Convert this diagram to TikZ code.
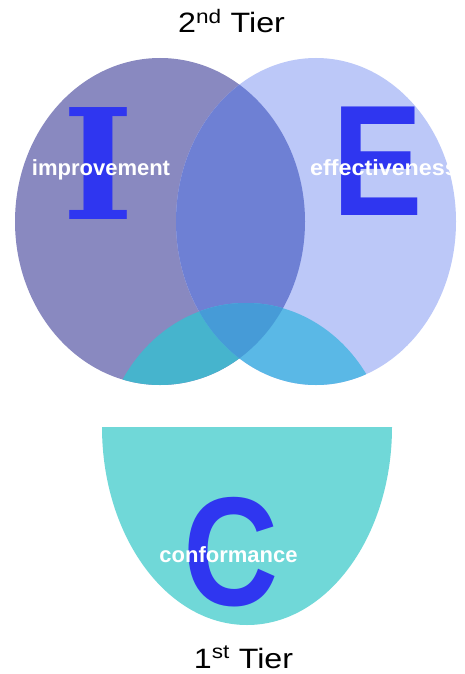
\documentclass[tikz,border=0pt]{standalone}
\usepackage{fontspec}
\usepackage{graphicx}
\setmainfont{Liberation Sans}
\newfontfamily\slabfont{DejaVu Serif}

% region colours
\definecolor{improvefill}{HTML}{8989C0}
\definecolor{effectfill}{HTML}{BCC8F8}
\definecolor{bothfill}{HTML}{6E80D4}
\definecolor{conffill}{HTML}{70D8D8}
\definecolor{capleft}{HTML}{46B4CD}
\definecolor{capright}{HTML}{5AB8E6}
\definecolor{capboth}{HTML}{469BD7}
\definecolor{letterblue}{HTML}{2F36F0}

\begin{document}
\begin{tikzpicture}[x=1pt,y=-1pt,
  bigletter/.style={inner sep=0pt, text=letterblue},
  areaname/.style={inner sep=0pt, text=white, font=\bfseries\fontsize{22}{22}\selectfont},
  tiername/.style={inner sep=0pt, text=black, font=\fontsize{28}{28}\selectfont}]

  \fill[white] (0,0) rectangle (465,674);
  \path[use as bounding box] (0,0) rectangle (465,674);

  % the two upper circles
  \def\leftshape{(160,221.5) ellipse [x radius=145pt, y radius=163.5pt]}
  \def\rightshape{(316,221.5) ellipse [x radius=140pt, y radius=163.5pt]}
  \def\capshape{(246,461) ellipse [x radius=144pt, y radius=158pt]}

  \fill[improvefill] \leftshape;
  \fill[effectfill] \rightshape;
  \begin{scope}
    \clip \leftshape;
    \fill[bothfill] \rightshape;
  \end{scope}

  % conformance cap reaching into both circles
  \begin{scope}
    \clip \leftshape;
    \fill[capleft] \capshape;
  \end{scope}
  \begin{scope}
    \clip \rightshape;
    \fill[capright] \capshape;
  \end{scope}
  \begin{scope}
    \clip \leftshape;
    \clip \rightshape;
    \fill[capboth] \capshape;
  \end{scope}

  % lower half disc
  \begin{scope}
    \clip (0,427) rectangle (465,674);
    \fill[conffill] (247,427) ellipse [x radius=145pt, y radius=198pt];
  \end{scope}

  % big initials
  \node[bigletter, anchor=north] (bigI) at (98.5,107)
    {\slabfont\bfseries\fontsize{153.6}{160}\selectfont\scalebox{1}[1]{I}};
  \node[bigletter, anchor=north west] (bigE) at (332,107)
    {\bfseries\fontsize{157.8}{160}\selectfont\scalebox{0.86}[1]{E}};
  \node[bigletter, anchor=north west] (bigC) at (183,497)
    {\bfseries\fontsize{155}{160}\selectfont\scalebox{0.85}[1]{C}};

  % area names
  \node[areaname, anchor=base] (improvement) at (101,175) {improvement};
  \node[areaname, anchor=base] (effectiveness) at (384,175)
    {\scalebox{1.06}[1]{effectiveness}};
  \node[areaname, anchor=base] (conformance) at (228.5,562) {conformance};

  % tier captions
  \node[tiername, anchor=base] (tiertwo) at (231.5,33)
    {\scalebox{1.15}[1]{2\textsuperscript{nd} Tier}};
  \node[tiername, anchor=base] (tierone) at (243.5,668)
    {\scalebox{1.15}[1]{1\textsuperscript{st} Tier}};
\end{tikzpicture}
\end{document}
